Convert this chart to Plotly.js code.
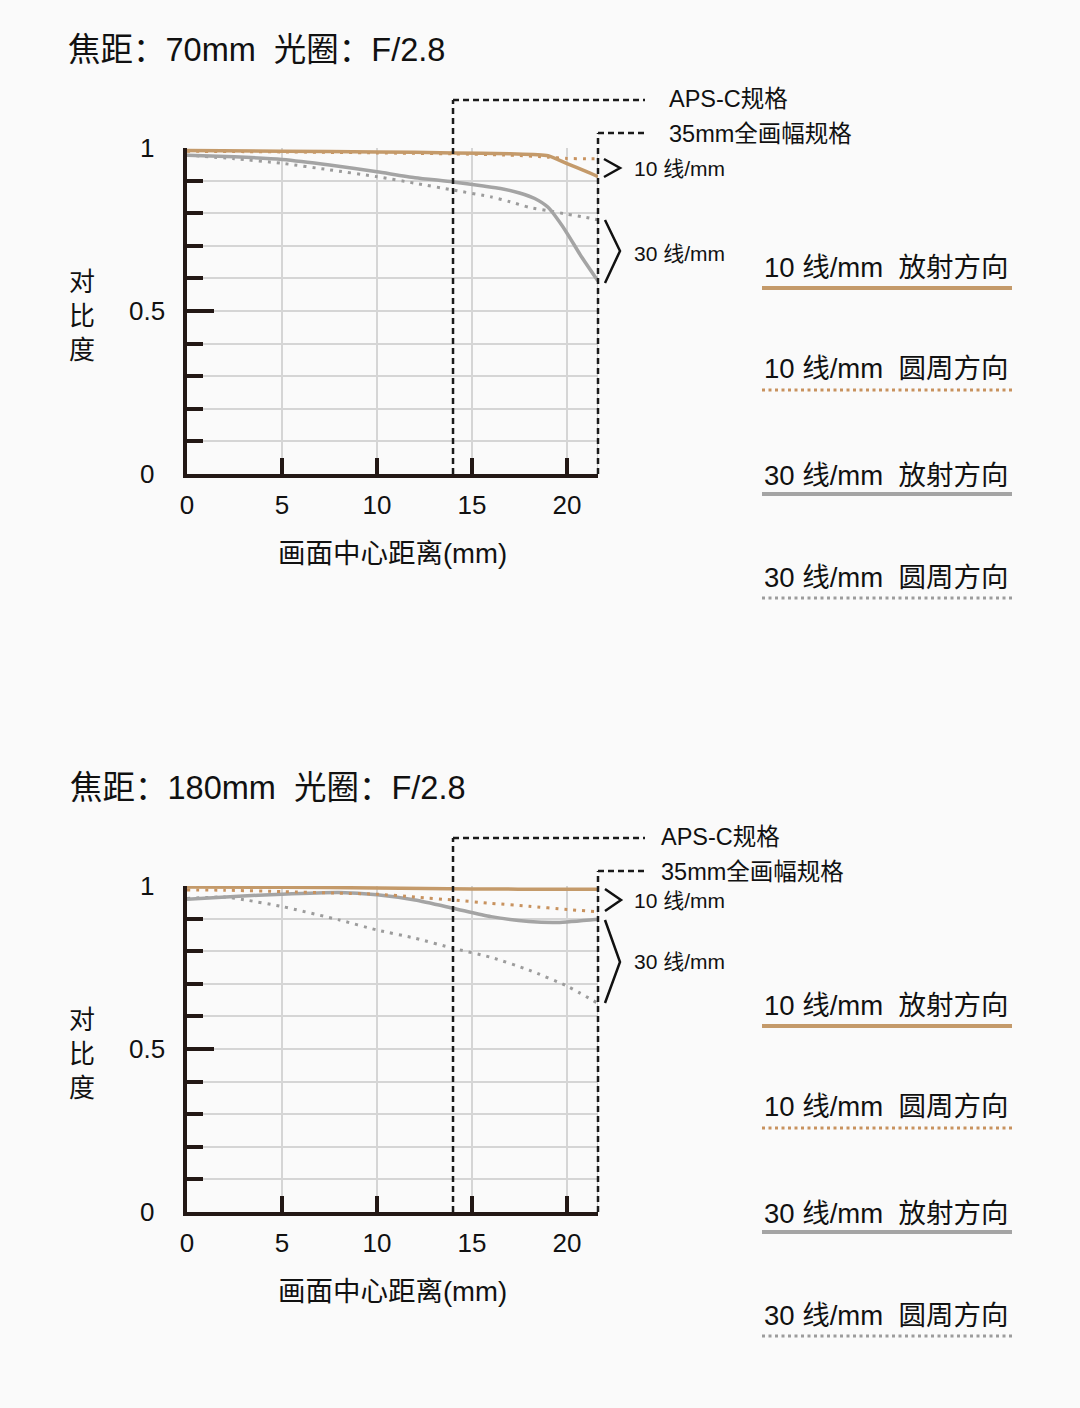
<!DOCTYPE html>
<html>
<head>
<meta charset="utf-8">
<script src="https://cdn.plot.ly/plotly-3.0.1.min.js"></script>
<style>html,body{margin:0;padding:0;background:#fafafa;}#chart{width:1080px;height:1408px;}</style>
</head>
<body>
<div id="chart"></div>
<script>
// ---------- data ----------
const chartTitles = ['焦距：70mm\u00a0\u00a0光圈：F/2.8', '焦距：180mm\u00a0\u00a0光圈：F/2.8'];
const seriesNames = ['10 线/mm\u00a0\u00a0放射方向', '10 线/mm\u00a0\u00a0圆周方向', '30 线/mm\u00a0\u00a0放射方向', '30 线/mm\u00a0\u00a0圆周方向'];
const xTickVals = [0, 5, 10, 15, 20];
const xTickText = ['0', '5', '10', '15', '20'];
const yTickVals = [0, 0.5, 1];
const yTickText = ['0', '0.5', '1'];
const xAxisTitle = '画面中心距离(mm)';
const yAxisTitle = '对<br>比<br>度';
const apscEdge = 14.0;
const fullFrameEdge = 21.63;
const specLabels = ['APS-C规格', '35mm全画幅规格'];
const groupLabels = ['10 线/mm', '30 线/mm'];

// 70mm F/2.8
const x70_10R = [0, 5, 10, 14, 17, 19, 20, 21, 21.63];
const y70_10R = [0.992, 0.990, 0.988, 0.985, 0.982, 0.976, 0.952, 0.928, 0.912];
const x70_10T = [0, 5, 10, 14, 17, 19, 20, 21, 21.63];
const y70_10T = [0.990, 0.988, 0.985, 0.982, 0.978, 0.972, 0.968, 0.967, 0.967];
const x70_30R = [0, 2.5, 5, 7.5, 10, 12, 14, 15.5, 16.5, 17.5, 18.3, 19, 19.9, 20.7, 21.63];
const y70_30R = [0.978, 0.973, 0.965, 0.948, 0.927, 0.909, 0.896, 0.884, 0.876, 0.862, 0.845, 0.818, 0.748, 0.672, 0.592];
const x70_30T = [0, 2.5, 5, 7.5, 10, 12, 14, 16, 17, 18, 19, 20, 21, 21.63];
const y70_30T = [0.978, 0.967, 0.953, 0.933, 0.912, 0.892, 0.871, 0.850, 0.835, 0.818, 0.808, 0.797, 0.787, 0.780];

// 180mm F/2.8
const x180_10R = [0, 5, 10, 15, 20, 21.63];
const y180_10R = [0.997, 0.996, 0.994, 0.991, 0.990, 0.990];
const x180_10T = [0, 2, 5, 8, 10, 12, 14, 16, 18, 20, 21.63];
const y180_10T = [0.988, 0.987, 0.983, 0.978, 0.975, 0.966, 0.957, 0.947, 0.938, 0.928, 0.921];
const x180_30R = [0, 2.5, 5, 8, 10, 12, 14, 16, 18, 19.5, 21.63];
const y180_30R = [0.959, 0.968, 0.975, 0.980, 0.973, 0.957, 0.932, 0.906, 0.891, 0.888, 0.898];
const x180_30T = [0, 2, 3, 5, 8, 10, 12, 14, 16, 18, 20, 21.63];
const y180_30T = [0.962, 0.966, 0.958, 0.937, 0.896, 0.865, 0.840, 0.809, 0.781, 0.742, 0.693, 0.640];

// ---------- layout helpers ----------
const W = 1080, H = 1408;
const X = p => p / W;
const Y = p => 1 - p / H;
const FONT = 'Liberation Sans, Noto Sans CJK SC, sans-serif';
const INK = '#231815';
const GRID = '#d5d5d5';
const plotLeft = 187, plotRight = 598;
const xRange = [0, fullFrameEdge];
const xpx = v => plotLeft + (v - xRange[0]) / (xRange[1] - xRange[0]) * (plotRight - plotLeft);

const styles = [
  {color: '#c49a6a', dash: 'solid', width: 3.5, legDash: 'solid', legWidth: 4},
  {color: '#c8925e', dash: '3px,6px', width: 3, legDash: '3px,3.5px', legWidth: 3},
  {color: '#a4a4a4', dash: 'solid', width: 3.5, legDash: 'solid', legWidth: 4},
  {color: '#9c9c9c', dash: '3px,6px', width: 3, legDash: '3px,3.5px', legWidth: 3}
];

const chartData = [
  [[x70_10R, y70_10R], [x70_10T, y70_10T], [x70_30R, y70_30R], [x70_30T, y70_30T]],
  [[x180_10R, y180_10R], [x180_10T, y180_10T], [x180_30R, y180_30R], [x180_30T, y180_30T]]
];

const offsets = [0, 738];
const specLabelX = [667, 659];
const smallBr = [[[604,159],[620,168],[604,177]], [[605,889],[621,900],[605,911]]];
const largeBr = [[[605,220],[620,251],[605,283]], [[605,920],[620,962],[605,1003]]];
const groupLabelY = [[168, 253], [900, 961]];

const traces = [];
const shapes = [];
const annotations = [];
const layout = {
  width: W, height: H,
  margin: {l: 0, r: 0, t: 0, b: 0},
  paper_bgcolor: '#fafafa',
  plot_bgcolor: '#fafafa',
  showlegend: false,
  font: {family: FONT, color: '#111'},
  title: {text: chartTitles[0], x: X(68), xanchor: 'left', xref: 'paper', y: Y(50), yanchor: 'middle', yref: 'paper', font: {size: 32.5, family: FONT, color: '#111'}}
};

function pathOf(pts) {
  return pts.map((p, i) => (i ? 'L' : 'M') + X(p[0]) + ',' + Y(p[1])).join(' ');
}

for (let c = 0; c < 2; c++) {
  const off = offsets[c];
  const xa = c ? 'x2' : 'x';
  const ya = c ? 'y2' : 'y';
  const xkey = c ? 'xaxis2' : 'xaxis';
  const ykey = c ? 'yaxis2' : 'yaxis';

  layout[xkey] = {
    domain: [X(plotLeft), X(plotRight)], anchor: ya, range: xRange,
    tickmode: 'array', tickvals: xTickVals, ticktext: xTickText,
    ticks: 'inside', ticklen: 16, tickwidth: 4, tickcolor: INK,
    showline: true, linecolor: INK, linewidth: 4,
    showgrid: true, gridcolor: GRID, gridwidth: 2, zeroline: false,
    tickfont: {size: 26, family: FONT, color: '#111'},
    ticklabelstandoff: 5,
    title: {text: xAxisTitle, font: {size: 27.5, family: FONT, color: '#111'}, standoff: 26},
    fixedrange: true
  };
  layout[ykey] = {
    domain: [Y(474 + off), Y(148 + off)], anchor: xa, range: [0, 1],
    tickmode: 'array', tickvals: yTickVals, showticklabels: false,
    ticks: 'inside', ticklen: 27, tickwidth: 4, tickcolor: INK,
    minor: {dtick: 0.1, tick0: 0, ticks: 'inside', ticklen: 16, tickwidth: 4, tickcolor: INK, showgrid: true, gridcolor: GRID, gridwidth: 2},
    showline: true, linecolor: INK, linewidth: 4,
    showgrid: true, gridcolor: GRID, gridwidth: 2, zeroline: false,
    fixedrange: true
  };

  // curves (draw 30 first so 10 lies on top)
  for (const s of [3, 2, 1, 0]) {
    const [xs, ys] = chartData[c][s];
    traces.push({
      type: 'scatter', mode: 'lines', x: xs, y: ys, xaxis: xa, yaxis: ya,
      name: seriesNames[s],
      line: {color: styles[s].color, width: styles[s].width, dash: styles[s].dash, shape: 'spline', smoothing: 0.6},
      hoverinfo: 'skip'
    });
  }

  // right-edge grid line
  shapes.push({type: 'line', xref: xa, yref: ya, x0: fullFrameEdge, x1: fullFrameEdge, y0: 0, y1: 1, layer: 'below', line: {color: GRID, width: 2}});

  // spec dashed brackets
  const dashLine = {color: '#1a1a1a', width: 2.5, dash: '6px,4px'};
  const ax = xpx(apscEdge), fx = xpx(fullFrameEdge);
  shapes.push({type: 'line', xref: 'paper', yref: 'paper', x0: X(ax), x1: X(ax), y0: Y(474 + off), y1: Y(100 + off), line: dashLine});
  shapes.push({type: 'line', xref: 'paper', yref: 'paper', x0: X(ax), x1: X(645), y0: Y(100 + off), y1: Y(100 + off), line: dashLine});
  shapes.push({type: 'line', xref: 'paper', yref: 'paper', x0: X(fx), x1: X(fx), y0: Y(474 + off), y1: Y(133 + off), line: dashLine});
  shapes.push({type: 'line', xref: 'paper', yref: 'paper', x0: X(fx), x1: X(645), y0: Y(133 + off), y1: Y(133 + off), line: dashLine});
  annotations.push({xref: 'paper', yref: 'paper', x: X(specLabelX[c]), y: Y(99 + off), text: specLabels[0], showarrow: false, xanchor: 'left', yanchor: 'middle', font: {size: 23.5, family: FONT, color: '#111'}});
  annotations.push({xref: 'paper', yref: 'paper', x: X(specLabelX[c]), y: Y(134 + off), text: specLabels[1], showarrow: false, xanchor: 'left', yanchor: 'middle', font: {size: 23.5, family: FONT, color: '#111'}});

  // group brackets
  shapes.push({type: 'path', xref: 'paper', yref: 'paper', path: pathOf(smallBr[c]), line: {color: '#111', width: 2.5}});
  shapes.push({type: 'path', xref: 'paper', yref: 'paper', path: pathOf(largeBr[c]), line: {color: '#111', width: 2.5}});
  for (let g = 0; g < 2; g++) {
    annotations.push({xref: 'paper', yref: 'paper', x: X(632), y: Y(groupLabelY[c][g]), text: groupLabels[g], showarrow: false, xanchor: 'left', yanchor: 'middle', font: {size: 21, family: FONT, color: '#111'}});
  }

  // y tick labels
  yTickVals.forEach((v, i) => {
    annotations.push({xref: 'paper', yref: ya, x: X(147), y: v, text: yTickText[i], showarrow: false, xanchor: 'center', yanchor: 'middle', font: {size: 26, family: FONT, color: '#111'}});
  });
  // y axis title
  annotations.push({xref: 'paper', yref: 'paper', x: X(82), y: Y(316 + off), text: yAxisTitle, showarrow: false, xanchor: 'center', yanchor: 'middle', font: {size: 26, family: FONT, color: '#111'}});

  // chart title (second chart)
  if (c === 1) {
    annotations.push({xref: 'paper', yref: 'paper', x: X(68), y: Y(50 + off), text: chartTitles[1], showarrow: false, xanchor: 'left', yanchor: 'middle', font: {size: 32.5, family: FONT, color: '#111'}});
  }

  // custom legend
  const legTextY = [267, 368, 475, 577];
  const legLineY = [288, 390, 494, 598];
  for (let s = 0; s < 4; s++) {
    annotations.push({xref: 'paper', yref: 'paper', x: X(762), y: Y(legTextY[s] + off), text: seriesNames[s], showarrow: false, xanchor: 'left', yanchor: 'middle', font: {size: 27.5, family: FONT, color: '#111'}});
    shapes.push({type: 'line', xref: 'paper', yref: 'paper', x0: X(762), x1: X(1012), y0: Y(legLineY[s] + off), y1: Y(legLineY[s] + off), line: {color: styles[s].color, width: styles[s].legWidth, dash: styles[s].legDash}});
  }
}

layout.shapes = shapes;
layout.annotations = annotations;

Plotly.newPlot('chart', traces, layout, {staticPlot: true, displayModeBar: false});
</script>
</body>
</html>
